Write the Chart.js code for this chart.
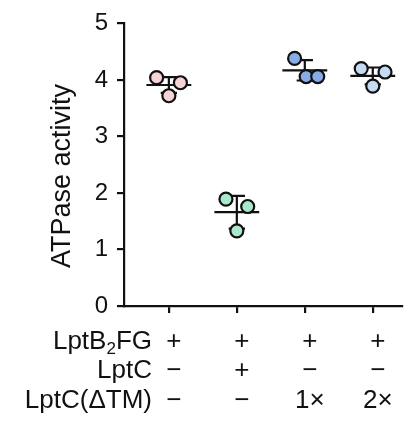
<!DOCTYPE html>
<html>
<head>
<meta charset="utf-8">
<script src="https://cdn.jsdelivr.net/npm/chart.js@4/dist/chart.umd.min.js"></script>
<style>
  body { margin: 0; background: #fff; }
  #wrap { width: 414px; height: 436px; }
</style>
</head>
<body>
<div id="wrap"><canvas id="grafico"></canvas></div>
<script>
// Datos
const grupos = [0, 1, 2, 3];
const filasNombre = ['LptB2FG', 'LptC', 'LptC(ΔTM)'];
const filaLptB = ['+', '+', '+', '+'];
const filaLptC = ['−', '+', '−', '−'];
const filaDeltaTM = ['−', '−', '1×', '2×'];
const tituloY = 'ATPase activity';

const desplazX = [
  [-0.18, 0.17, 0],
  [-0.16, 0.16, 0],
  [-0.15, 0.02, 0.19],
  [-0.17, 0.18, 0]
];
const valores = [
  [4.04, 3.95, 3.72],
  [1.89, 1.76, 1.33],
  [4.38, 4.06, 4.06],
  [4.20, 4.14, 3.89]
];
const medias = [3.91, 1.66, 4.17, 4.07];
const desv = [0.14, 0.29, 0.18, 0.15];
const colores = ['#f5d3d7', '#a9e8cb', '#87ade8', '#c5daf3'];
const yTicks = [0, 1, 2, 3, 4, 5];

const FUENTE = "'Liberation Sans', Arial, Helvetica, sans-serif";
const TAM_X = 26;
const LH_X = 1.13;

// barras de error y media (debajo de los puntos)
const errorBars = {
  id: 'errorBars',
  beforeDatasetsDraw(chart) {
    const { ctx, scales: { x, y } } = chart;
    ctx.save();
    ctx.strokeStyle = '#111';
    ctx.lineWidth = 2.2;
    grupos.forEach((g, i) => {
      const cx = x.getPixelForValue(g);
      const m = y.getPixelForValue(medias[i]);
      const up = y.getPixelForValue(medias[i] + desv[i]);
      const lo = y.getPixelForValue(medias[i] - desv[i]);
      const half = x.getPixelForValue(g + 0.33) - cx;
      const cap = x.getPixelForValue(g + 0.12) - cx;
      ctx.beginPath();
      ctx.moveTo(cx - half, m); ctx.lineTo(cx + half, m);
      ctx.moveTo(cx, up); ctx.lineTo(cx, lo);
      ctx.moveTo(cx - cap, up); ctx.lineTo(cx + cap, up);
      ctx.moveTo(cx - cap, lo); ctx.lineTo(cx + cap, lo);
      ctx.stroke();
    });
    ctx.restore();
  }
};

// título del eje y y nombres de las filas a la izquierda de las etiquetas del eje x
const textos = {
  id: 'textos',
  afterDraw(chart) {
    const { ctx, scales: { x } } = chart;
    const opts = x.options;
    const lh = TAM_X * LH_X;
    const y0 = x.top + opts.grid.tickLength + opts.ticks.padding + lh / 2;
    const derecha = 152;
    ctx.save();
    ctx.fillStyle = '#111';
    ctx.textBaseline = 'middle';

    // título vertical
    ctx.save();
    ctx.translate(63, 176);
    ctx.rotate(-Math.PI / 2);
    ctx.textAlign = 'center';
    ctx.font = '27px ' + FUENTE;
    ctx.fillText(tituloY, 0, 0);
    ctx.restore();

    filasNombre.forEach((nombre, k) => {
      const yy = y0 + k * lh;
      if (nombre === 'LptB2FG') {
        const a = 'LptB', b = '2', c = 'FG';
        ctx.font = TAM_X + 'px ' + FUENTE;
        const wa = ctx.measureText(a).width, wc = ctx.measureText(c).width;
        ctx.font = '17px ' + FUENTE;
        const wb = ctx.measureText(b).width;
        const xx = derecha - wa - wb - wc;
        ctx.textAlign = 'left';
        ctx.font = TAM_X + 'px ' + FUENTE;
        ctx.fillText(a, xx, yy);
        ctx.font = '17px ' + FUENTE;
        ctx.fillText(b, xx + wa, yy + 8);
        ctx.font = TAM_X + 'px ' + FUENTE;
        ctx.fillText(c, xx + wa + wb, yy);
      } else {
        ctx.textAlign = 'right';
        ctx.font = TAM_X + 'px ' + FUENTE;
        ctx.fillText(nombre, derecha, yy);
      }
    });
    ctx.restore();
  }
};

const datasets = grupos.map((g, i) => ({
  data: valores[i].map((v, j) => ({ x: g + desplazX[i][j], y: v })),
  backgroundColor: colores[i],
  borderColor: '#111',
  borderWidth: 2.2,
  pointRadius: 6.5,
  pointHoverRadius: 6.5
}));

new Chart(document.getElementById('grafico'), {
  type: 'scatter',
  data: { datasets },
  plugins: [errorBars, textos],
  options: {
    responsive: true,
    maintainAspectRatio: false,
    animation: false,
    layout: { padding: { top: 18, right: 12, left: 0, bottom: 0 } },
    plugins: { legend: { display: false }, tooltip: { enabled: false } },
    scales: {
      x: {
        type: 'linear',
        min: -0.66,
        max: 3.43,
        afterBuildTicks: (s) => { s.ticks = grupos.map(v => ({ value: v })); },
        afterFit: (s) => { s.height = 130; },
        grid: { drawOnChartArea: false, drawTicks: true, tickLength: 7, color: '#111', lineWidth: 2.2 },
        border: { display: true, color: '#111', width: 2.2 },
        ticks: {
          color: '#111',
          font: { size: TAM_X, family: FUENTE, lineHeight: LH_X },
          padding: 14,
          labelOffset: 5,
          maxRotation: 0,
          callback: (v, i) => [filaLptB[i], filaLptC[i], filaDeltaTM[i]]
        }
      },
      y: {
        min: 0,
        max: 5,
        afterBuildTicks: (s) => { s.ticks = yTicks.map(v => ({ value: v })); },
        afterFit: (s) => { s.width = 124; },
        grid: { drawOnChartArea: false, drawTicks: true, tickLength: 7, color: '#111', lineWidth: 2.2 },
        border: { display: true, color: '#111', width: 2.2 },
        ticks: { color: '#111', font: { size: 24, family: FUENTE }, padding: 9 },
        title: { display: false, text: tituloY }
      }
    }
  }
});
</script>
</body>
</html>
